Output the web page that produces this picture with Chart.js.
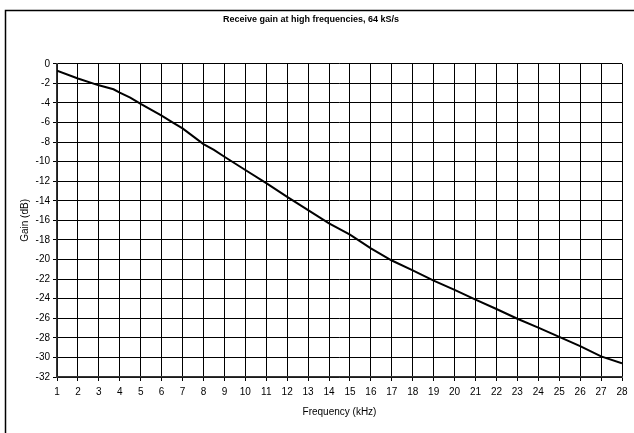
<!DOCTYPE html>
<html>
<head>
<meta charset="utf-8">
<script src="https://cdn.jsdelivr.net/npm/chart.js@4"></script>
<style>
  html, body { margin: 0; padding: 0; background: #fff; }
  #wrap { position: relative; width: 634px; height: 433px; }
</style>
</head>
<body>
<div id="wrap"><canvas id="chart" width="634" height="433"></canvas></div>
<script>
// frequency (kHz) and receive gain (dB)
const FREQ = [1, 2, 3, 3.7, 4, 4.5, 5, 6, 6.5, 7, 8, 8.5, 9, 10, 11, 12, 13, 14, 15, 16, 17, 18, 19, 20, 21, 22, 23, 24, 25, 26, 27, 28];
const GAIN = [-0.7, -1.5, -2.2, -2.6, -2.95, -3.45, -4.1, -5.3, -5.95, -6.6, -8.2, -8.8, -9.5, -10.85, -12.2, -13.6, -14.95, -16.3, -17.45, -18.85, -20.1, -21.1, -22.15, -23.1, -24.1, -25.05, -26.05, -26.95, -27.9, -28.85, -29.9, -30.6];
const X_MIN = 1, X_MAX = 28, Y_MIN = -32, Y_MAX = 0, Y_STEP = 2;

const FONT = "'Liberation Sans', Arial, sans-serif";

/* ---------- outer frame (only top/left visible in the crop) ---------- */
const framePlugin = {
  id: "frame",
  beforeDraw(chart) {
    const ctx = chart.ctx;
    ctx.save();
    ctx.strokeStyle = "#000";
    ctx.lineWidth = 1.5;
    ctx.beginPath();
    ctx.moveTo(5.5, 460);
    ctx.lineTo(5.5, 10.5);
    ctx.lineTo(660, 10.5);
    ctx.stroke();
    ctx.restore();
  },
};

new Chart(document.getElementById("chart"), {
  type: "line",
  data: {
    datasets: [{
      data: FREQ.map((f, i) => ({ x: f, y: GAIN[i] })),
      borderColor: "#000",
      borderWidth: 2,
      pointRadius: 0,
      tension: 0,
      fill: false,
    }],
  },
  options: {
    responsive: false,
    animation: false,
    layout: { padding: { left: 0, right: 12, top: 0, bottom: 0 } },
    plugins: {
      legend: { display: false },
      tooltip: { enabled: false },
      title: {
        display: true,
        text: "Receive gain at high frequencies, 64 kS/s",
        color: "#000",
        font: { family: FONT, size: 9, weight: "bold" },
        padding: { top: 14, bottom: 39 },
      },
    },
    scales: {
      x: {
        type: "linear",
        min: X_MIN,
        max: X_MAX,
        afterBuildTicks: (s) => {
          s.ticks = [];
          for (let v = X_MIN; v <= X_MAX; v++) s.ticks.push({ value: v });
        },
        afterFit: (s) => { s.height = 56; },
        grid: { color: "#000", lineWidth: 1, tickLength: 4, drawTicks: true },
        border: { color: "#333", width: 1.5 },
        ticks: {
          color: "#000", font: { family: FONT, size: 10 }, padding: 5,
          autoSkip: false, maxRotation: 0,
        },
        title: {
          display: true, text: "Frequency (kHz)", color: "#000",
          font: { family: FONT, size: 10 }, padding: { top: 0, bottom: 15 },
        },
      },
      y: {
        min: Y_MIN,
        max: Y_MAX,
        afterFit: (s) => { s.width = 57; },
        grid: { color: "#000", lineWidth: 1, tickLength: 4 },
        border: { color: "#333", width: 1.5 },
        ticks: { stepSize: Y_STEP, color: "#000", font: { family: FONT, size: 10 }, padding: 3 },
        title: {
          display: true, text: "Gain (dB)", color: "#000",
          font: { family: FONT, size: 10 }, padding: { top: 19, bottom: 0 },
        },
      },
    },
  },
  plugins: [framePlugin],
});
</script>
</body>
</html>
